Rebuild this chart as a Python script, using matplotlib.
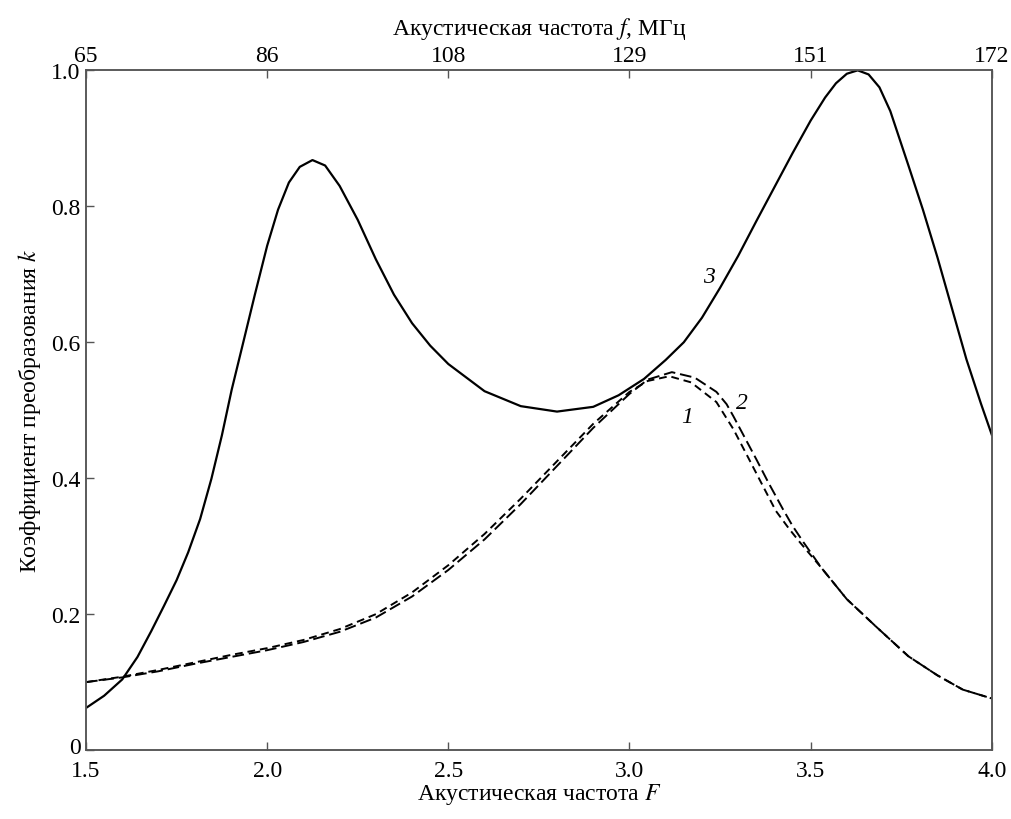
import matplotlib
matplotlib.use('Agg')
import matplotlib.pyplot as plt
from matplotlib.transforms import ScaledTranslation

plt.rcParams['font.family'] = ['Liberation Serif', 'DejaVu Serif']
plt.rcParams['mathtext.fontset'] = 'stix'

# curve 3 (solid)
F3 = [1.50, 1.55, 1.60, 1.642, 1.68, 1.715, 1.75, 1.782, 1.815, 1.846, 1.875, 1.902,
      1.935, 1.966, 2.00, 2.03, 2.06, 2.09, 2.125, 2.16, 2.20, 2.25, 2.30, 2.35,
      2.40, 2.45, 2.50, 2.60, 2.70, 2.80, 2.90, 2.97, 3.04, 3.10, 3.15, 3.20,
      3.25, 3.30, 3.35, 3.40, 3.45, 3.50, 3.54, 3.57, 3.60, 3.63, 3.66, 3.69,
      3.72, 3.77, 3.81, 3.85, 3.89, 3.93, 3.97, 4.00]
k3 = [0.062, 0.080, 0.104, 0.137, 0.175, 0.212, 0.250, 0.291, 0.340, 0.399, 0.463, 0.530,
      0.602, 0.670, 0.742, 0.795, 0.835, 0.858, 0.868, 0.860, 0.830, 0.780, 0.722, 0.670,
      0.628, 0.595, 0.568, 0.528, 0.506, 0.498, 0.505, 0.522, 0.546, 0.574, 0.600, 0.636,
      0.680, 0.727, 0.778, 0.828, 0.878, 0.926, 0.960, 0.981, 0.995, 1.000, 0.994, 0.975,
      0.940, 0.860, 0.795, 0.725, 0.650, 0.575, 0.510, 0.464]

# curve 1 (dashed)
F1 = [1.50, 1.60, 1.70, 1.80, 1.90, 2.00, 2.10, 2.20, 2.30, 2.40, 2.50, 2.60,
      2.70, 2.80, 2.90, 3.00, 3.05, 3.11, 3.17, 3.24, 3.287, 3.33, 3.363, 3.404,
      3.44, 3.47, 3.53, 3.60, 3.68, 3.77, 3.85, 3.92, 4.00]
k1 = [0.100, 0.108, 0.118, 0.129, 0.140, 0.150, 0.162, 0.178, 0.200, 0.232, 0.272, 0.318,
      0.370, 0.425, 0.480, 0.527, 0.543, 0.550, 0.541, 0.512, 0.472, 0.428, 0.394, 0.352,
      0.326, 0.306, 0.268, 0.222, 0.182, 0.138, 0.110, 0.089, 0.076]

# curve 2 (dashed)
F2 = [1.50, 1.60, 1.70, 1.80, 1.90, 2.00, 2.10, 2.20, 2.30, 2.40, 2.50, 2.60,
      2.70, 2.80, 2.90, 3.00, 3.05, 3.117, 3.18, 3.24, 3.268, 3.287, 3.35, 3.383,
      3.423, 3.45, 3.48, 3.53, 3.60, 3.68, 3.77, 3.85, 3.92, 4.00]
k2 = [0.100, 0.107, 0.116, 0.127, 0.137, 0.147, 0.159, 0.174, 0.195, 0.226, 0.265, 0.310,
      0.362, 0.418, 0.474, 0.524, 0.545, 0.556, 0.548, 0.527, 0.509, 0.491, 0.428, 0.394,
      0.355, 0.330, 0.306, 0.268, 0.222, 0.182, 0.138, 0.110, 0.089, 0.076]

x_ticks = [1.5, 2.0, 2.5, 3.0, 3.5, 4.0]
x_labels = ['1.5', '2.0', '2.5', '3.0', '3.5', '4.0']
top_labels = ['65', '86', '108', '129', '151', '172']
y_ticks = [0, 0.2, 0.4, 0.6, 0.8, 1.0]
y_labels = ['0', '0.2', '0.4', '0.6', '0.8', '1.0']

fig = plt.figure(figsize=(10.12, 8.2), dpi=100)
ax = fig.add_axes([0.085, 0.084, 0.895, 0.829])

ax.plot(F3, k3, color='black', lw=1.6)
ax.plot(F1, k1, color='black', lw=1.4, dashes=(4, 2.5))
ax.plot(F2, k2, color='black', lw=1.4, dashes=(6, 2.5))

ax.set_xlim(1.5, 4.0)
ax.set_ylim(0, 1.0)
ax.set_xticks(x_ticks)
ax.set_xticklabels(x_labels)
ax.set_yticks(y_ticks)
ax.set_yticklabels(y_labels)
ax.tick_params(direction='in', length=6, width=1, labelsize=17, pad=4, color='#555555')
ax.tick_params(axis='x', pad=7)
ax.set_xlabel('Акустическая частота $F$', fontsize=17, labelpad=0)
ax.set_ylabel('Коэффициент преобразования $k$', fontsize=17, labelpad=6)
for s in ax.spines.values():
    s.set_color('#555555')
    s.set_linewidth(1.1)

# lift the "0" label a little so it clears "1.5"
zero = ax.get_yticklabels()[0]
zero.set_transform(zero.get_transform() + ScaledTranslation(0, 4 / 72, fig.dpi_scale_trans))

ax_top = ax.twiny()
ax_top.set_xlim(ax.get_xlim())
ax_top.set_xticks(x_ticks)
ax_top.set_xticklabels(top_labels)
ax_top.tick_params(direction='in', length=6, width=1, labelsize=17, pad=3, color='#555555')
ax_top.set_xlabel('Акустическая частота $f$, МГц', fontsize=17, labelpad=8)
for s in ax_top.spines.values():
    s.set_color('#555555')
    s.set_linewidth(1.1)

ax.text(3.158, 0.491, '1', fontsize=17, style='italic', ha='center', va='center')
ax.text(3.31, 0.512, '2', fontsize=17, style='italic', ha='center', va='center')
ax.text(3.219, 0.696, '3', fontsize=17, style='italic', ha='center', va='center')

plt.savefig('out.png', dpi=100)
